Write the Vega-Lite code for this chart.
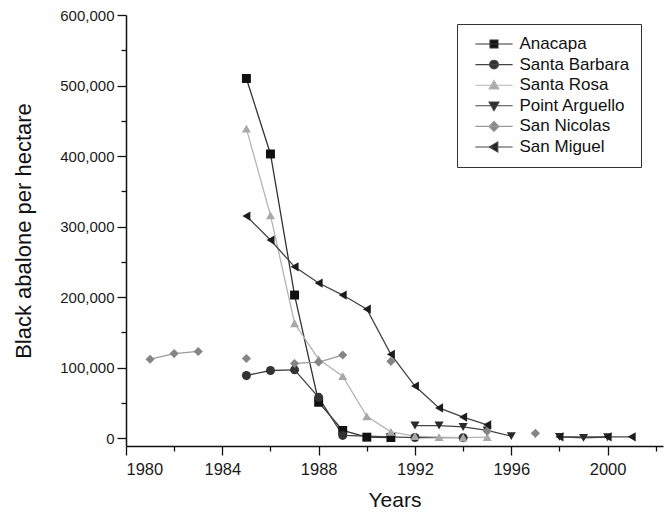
{
  "$schema": "https://vega.github.io/schema/vega-lite/v6.json",
  "width": 537,
  "height": 431,
  "autosize": {"type": "none"},
  "padding": {"left": 126, "top": 15, "right": 2, "bottom": 66},
  "background": "white",
  "config": {
    "view": {"stroke": null},
    "font": "Liberation Sans",
    "axis": {
      "grid": false,
      "domainColor": "#111",
      "domainWidth": 1.5,
      "tickColor": "#111",
      "tickWidth": 1.3,
      "labelFont": "Liberation Sans",
      "labelColor": "#1a1a1a",
      "titleFont": "Liberation Sans",
      "titleFontWeight": "normal",
      "titleColor": "#111"
    }
  },
  "data": {
    "values": [
      {"site": "Anacapa", "seg": "An1", "year": 1985, "value": 510000},
      {"site": "Anacapa", "seg": "An1", "year": 1986, "value": 403000},
      {"site": "Anacapa", "seg": "An1", "year": 1987, "value": 203000},
      {"site": "Anacapa", "seg": "An1", "year": 1988, "value": 51000},
      {"site": "Anacapa", "seg": "An1", "year": 1989, "value": 11000},
      {"site": "Anacapa", "seg": "An1", "year": 1990, "value": 1500},
      {"site": "Anacapa", "seg": "An1", "year": 1991, "value": 1000},
      {"site": "Santa Barbara", "seg": "SB1", "year": 1985, "value": 89000},
      {"site": "Santa Barbara", "seg": "SB1", "year": 1986, "value": 96000},
      {"site": "Santa Barbara", "seg": "SB1", "year": 1987, "value": 97000},
      {"site": "Santa Barbara", "seg": "SB1", "year": 1988, "value": 58000},
      {"site": "Santa Barbara", "seg": "SB1", "year": 1989, "value": 4000},
      {"site": "Santa Barbara", "seg": "SB1", "year": 1992, "value": 1000},
      {"site": "Santa Barbara", "seg": "SB1", "year": 1994, "value": 800},
      {"site": "Santa Rosa", "seg": "SR1", "year": 1985, "value": 439000},
      {"site": "Santa Rosa", "seg": "SR1", "year": 1986, "value": 316000},
      {"site": "Santa Rosa", "seg": "SR1", "year": 1987, "value": 163000},
      {"site": "Santa Rosa", "seg": "SR1", "year": 1988, "value": 112000},
      {"site": "Santa Rosa", "seg": "SR1", "year": 1989, "value": 88000},
      {"site": "Santa Rosa", "seg": "SR1", "year": 1990, "value": 31000},
      {"site": "Santa Rosa", "seg": "SR1", "year": 1991, "value": 9000},
      {"site": "Santa Rosa", "seg": "SR1", "year": 1992, "value": 3000},
      {"site": "Santa Rosa", "seg": "SR1", "year": 1993, "value": 1500},
      {"site": "Santa Rosa", "seg": "SR1", "year": 1994, "value": 1000},
      {"site": "Santa Rosa", "seg": "SR1", "year": 1995, "value": 1500},
      {"site": "Point Arguello", "seg": "PA1", "year": 1992, "value": 18000},
      {"site": "Point Arguello", "seg": "PA1", "year": 1993, "value": 18000},
      {"site": "Point Arguello", "seg": "PA1", "year": 1994, "value": 16000},
      {"site": "Point Arguello", "seg": "PA1", "year": 1995, "value": 11000},
      {"site": "Point Arguello", "seg": "PA1", "year": 1996, "value": 3000},
      {"site": "Point Arguello", "seg": "PA2", "year": 1998, "value": 2000},
      {"site": "Point Arguello", "seg": "PA2", "year": 1999, "value": 500},
      {"site": "Point Arguello", "seg": "PA2", "year": 2000, "value": 1500},
      {"site": "San Nicolas", "seg": "SN1", "year": 1981, "value": 112000},
      {"site": "San Nicolas", "seg": "SN1", "year": 1982, "value": 120000},
      {"site": "San Nicolas", "seg": "SN1", "year": 1983, "value": 123000},
      {"site": "San Nicolas", "seg": "SN2", "year": 1985, "value": 113000},
      {"site": "San Nicolas", "seg": "SN3", "year": 1987, "value": 106000},
      {"site": "San Nicolas", "seg": "SN3", "year": 1988, "value": 108000},
      {"site": "San Nicolas", "seg": "SN3", "year": 1989, "value": 118000},
      {"site": "San Nicolas", "seg": "SN4", "year": 1991, "value": 109000},
      {"site": "San Nicolas", "seg": "SN5", "year": 1995, "value": 10000},
      {"site": "San Nicolas", "seg": "SN6", "year": 1997, "value": 7000},
      {"site": "San Miguel", "seg": "SM1", "year": 1985, "value": 315000},
      {"site": "San Miguel", "seg": "SM1", "year": 1986, "value": 281000},
      {"site": "San Miguel", "seg": "SM1", "year": 1987, "value": 243000},
      {"site": "San Miguel", "seg": "SM1", "year": 1988, "value": 220000},
      {"site": "San Miguel", "seg": "SM1", "year": 1989, "value": 203000},
      {"site": "San Miguel", "seg": "SM1", "year": 1990, "value": 183000},
      {"site": "San Miguel", "seg": "SM1", "year": 1991, "value": 119000},
      {"site": "San Miguel", "seg": "SM1", "year": 1992, "value": 74000},
      {"site": "San Miguel", "seg": "SM1", "year": 1993, "value": 43000},
      {"site": "San Miguel", "seg": "SM1", "year": 1994, "value": 30000},
      {"site": "San Miguel", "seg": "SM1", "year": 1995, "value": 19000},
      {"site": "San Miguel", "seg": "SM2", "year": 1998, "value": 2000},
      {"site": "San Miguel", "seg": "SM2", "year": 2000, "value": 2000},
      {"site": "San Miguel", "seg": "SM2", "year": 2001, "value": 2000}
    ]
  },
  "encoding": {
    "x": {
      "field": "year",
      "type": "quantitative",
      "scale": {"domain": [1980, 2002.3], "nice": false, "zero": false},
      "axis": {
        "title": "Years",
        "values": [1980, 1982, 1984, 1986, 1988, 1990, 1992, 1994, 1996, 1998, 2000, 2002],
        "labelExpr": "datum.value % 4 === 0 ? '' + datum.value : ''",
        "tickSize": {"condition": {"test": "datum.value % 4 === 0", "value": 9}, "value": 5},
        "labelFontSize": 16.5,
        "labelPadding": 6,
        "titleFontSize": 21,
        "titlePadding": 12
      }
    },
    "y": {
      "field": "value",
      "type": "quantitative",
      "scale": {"domain": [-11000, 600000], "nice": false, "zero": false},
      "axis": {
        "title": "Black abalone per hectare",
        "values": [0, 50000, 100000, 150000, 200000, 250000, 300000, 350000, 400000, 450000, 500000, 550000, 600000],
        "labelExpr": "datum.value % 100000 === 0 ? format(datum.value, ',') : ''",
        "tickSize": {"condition": {"test": "datum.value % 100000 === 0", "value": 9}, "value": 5},
        "labelFontSize": 15,
        "labelPadding": 3,
        "titleFontSize": 22,
        "titlePadding": 24
      }
    }
  },
  "layer": [
    {
      "mark": {"type": "line", "strokeWidth": 1.3},
      "encoding": {
        "detail": {"field": "seg"},
        "stroke": {
          "field": "site",
          "type": "nominal",
          "scale": {
            "domain": ["Anacapa", "Santa Barbara", "Santa Rosa", "Point Arguello", "San Nicolas", "San Miguel"],
            "range": ["#333333", "#444444", "#b4b4b4", "#444444", "#9a9a9a", "#444444"]
          },
          "legend": null
        }
      }
    },
    {
      "mark": {"type": "point", "filled": true, "opacity": 1, "strokeWidth": 0.8},
      "encoding": {
        "shape": {
          "field": "site",
          "type": "nominal",
          "scale": {
            "domain": ["Anacapa", "Santa Barbara", "Santa Rosa", "Point Arguello", "San Nicolas", "San Miguel"],
            "range": ["square", "circle", "triangle-up", "triangle-down", "diamond", "triangle-left"]
          },
          "legend": null
        },
        "fill": {
          "field": "site",
          "type": "nominal",
          "scale": {
            "domain": ["Anacapa", "Santa Barbara", "Santa Rosa", "Point Arguello", "San Nicolas", "San Miguel"],
            "range": ["#111111", "#333333", "#a8a8a8", "#2a2a2a", "#858585", "#1c1c1c"]
          },
          "legend": null
        },
        "size": {
          "field": "site",
          "type": "nominal",
          "scale": {
            "domain": ["Anacapa", "Santa Barbara", "Santa Rosa", "Point Arguello", "San Nicolas", "San Miguel"],
            "range": [80, 85, 110, 110, 95, 110]
          },
          "legend": null
        }
      }
    },
    {
      "mark": {"type": "point", "filled": true, "opacity": 0},
      "encoding": {
        "shape": {
          "field": "site",
          "type": "nominal",
          "scale": {
            "domain": ["Anacapa", "Santa Barbara", "Santa Rosa", "Point Arguello", "San Nicolas", "San Miguel"],
            "range": [
              "M-0.4,0H8.9M3.25,-1H5.25V1H3.25Z",
              "M-0.4,0H8.9M5.35,0A1.1,1.1,0,1,1,3.15,0A1.1,1.1,0,1,1,5.35,0Z",
              "M-0.4,0H8.9M4.25,-1.2L5.5,0.95H3Z",
              "M-0.4,0H8.9M4.25,1.2L5.5,-0.95H3Z",
              "M-0.4,0H8.9M4.25,-1.25L5.5,0L4.25,1.25L3,0Z",
              "M-0.4,0H8.9M3.05,0L5.2,-1.25V1.25Z"
            ]
          },
          "legend": {
            "orient": "none", "legendX": 331, "legendY": 9, "title": null,
            "strokeColor": "#333", "fillColor": "white", "padding": 11.5,
            "symbolSize": 64, "symbolStrokeWidth": 1.1, "symbolOpacity": 1,
            "symbolOffset": 0, "labelOffset": 34, "labelFontSize": 17,
            "labelFont": "Liberation Sans", "labelColor": "#111", "rowPadding": 2.6
          }
        },
        "fill": {
          "field": "site",
          "type": "nominal",
          "scale": {
            "domain": ["Anacapa", "Santa Barbara", "Santa Rosa", "Point Arguello", "San Nicolas", "San Miguel"],
            "range": ["#111111", "#333333", "#a8a8a8", "#2a2a2a", "#858585", "#1c1c1c"]
          },
          "legend": {
            "orient": "none", "legendX": 331, "legendY": 9, "title": null,
            "strokeColor": "#333", "fillColor": "white", "padding": 11.5,
            "symbolSize": 64, "symbolStrokeWidth": 1.1, "symbolOpacity": 1,
            "symbolOffset": 0, "labelOffset": 34, "labelFontSize": 17,
            "labelFont": "Liberation Sans", "labelColor": "#111", "rowPadding": 2.6
          }
        },
        "stroke": {
          "field": "site",
          "type": "nominal",
          "scale": {
            "domain": ["Anacapa", "Santa Barbara", "Santa Rosa", "Point Arguello", "San Nicolas", "San Miguel"],
            "range": ["#333333", "#444444", "#b4b4b4", "#444444", "#9a9a9a", "#444444"]
          },
          "legend": {
            "orient": "none", "legendX": 331, "legendY": 9, "title": null,
            "strokeColor": "#333", "fillColor": "white", "padding": 11.5,
            "symbolSize": 64, "symbolStrokeWidth": 1.1, "symbolOpacity": 1,
            "symbolOffset": 0, "labelOffset": 34, "labelFontSize": 17,
            "labelFont": "Liberation Sans", "labelColor": "#111", "rowPadding": 2.6
          }
        }
      }
    }
  ],
  "resolve": {
    "scale": {"shape": "independent", "fill": "independent", "stroke": "independent", "size": "independent"},
    "legend": {"shape": "independent", "fill": "independent", "stroke": "independent"}
  }
}
